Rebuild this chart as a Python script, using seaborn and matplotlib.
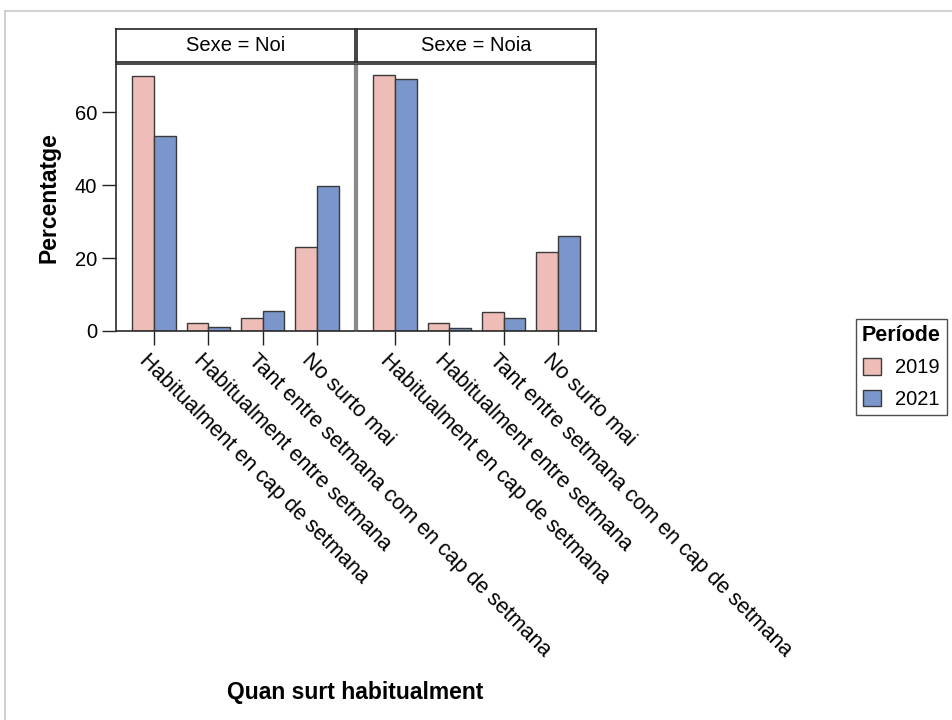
import seaborn as sns
import numpy as np
import pandas as pd
import matplotlib.pyplot as plt
from matplotlib.lines import Line2D
from matplotlib.transforms import ScaledTranslation

# data
categories = ['Habitualment en cap de setmana', 'Habitualment entre setmana',
              'Tant entre setmana com en cap de setmana', 'No surto mai']
sexes = ['Noi', 'Noia']
periods = ['2019', '2021']
noi_2019 = [69.9, 2.1, 3.7, 22.9]
noi_2021 = [53.4, 1.0, 5.5, 39.7]
noia_2019 = [70.3, 2.1, 5.2, 21.7]
noia_2021 = [69.0, 0.7, 3.7, 26.0]

colors = ['#EEBDB7', '#7B96CB']

rows = []
for sexe, s19, s21 in [('Noi', noi_2019, noi_2021), ('Noia', noia_2019, noia_2021)]:
	for cat, v19, v21 in zip(categories, s19, s21):
		rows.append({'Sexe': sexe, 'cat': cat, 'Període': '2019', 'pct': v19})
		rows.append({'Sexe': sexe, 'cat': cat, 'Període': '2021', 'pct': v21})
df = pd.DataFrame(rows)

sns.set_style('white')
plt.rcParams['font.family'] = ['Liberation Sans', 'DejaVu Sans']
plt.rcParams['text.color'] = 'black'
plt.rcParams['axes.labelcolor'] = 'black'
plt.rcParams['xtick.color'] = 'black'
plt.rcParams['ytick.color'] = 'black'

fig = plt.figure(figsize=(9.53, 7.2), dpi=100)

# outer gray frame (top and left lines)
fig.add_artist(Line2D([5/953, 1], [1-11/720, 1-11/720], color='#c8c8c8', lw=1.2))
fig.add_artist(Line2D([5/953, 5/953], [0, 1-11/720], color='#c8c8c8', lw=1.2))

W, H = 953, 720
panel_x = [116, 357]
panel_w = 239
plot_top, plot_bot = 64, 331
head_top, head_bot = 29, 62

axes = []
for i, sexe in enumerate(sexes):
	ax = fig.add_axes([panel_x[i]/W, 1-plot_bot/H, panel_w/W, (plot_bot-plot_top)/H])
	sub = df[df['Sexe'] == sexe]
	sns.barplot(data=sub, x='cat', y='pct', hue='Període', hue_order=periods,
				order=categories, palette=colors, width=0.8, saturation=1,
				edgecolor='#3a3a3a', linewidth=1, ax=ax, legend=(i == 0))
	ax.set_xlim(-0.7, 3.7)
	ax.set_ylim(0, 73.2)
	ax.set_yticks([0, 20, 40, 60])
	ax.set_xlabel('')
	ax.set_ylabel('')
	for sp in ax.spines.values():
		sp.set_visible(True)
		sp.set_color('#2a2a2a')
		sp.set_linewidth(1.2)
	ax.tick_params(axis='both', direction='out', length=10, width=1, color='#222222',
				   labelsize=15.5, bottom=True, left=(i == 0))
	ax.tick_params(axis='y', labelsize=14.5)
	ax.set_xticks(range(4))
	ax.set_xticklabels(categories, rotation=-45, ha='left', va='top',
					   rotation_mode='anchor')
	if i == 0:
		ax.set_ylabel('Percentatge', fontsize=16.5, fontweight='bold', labelpad=10)
	else:
		ax.set_yticklabels([])
		ax.spines['left'].set_color('#8a8a8a')
		ax.spines['left'].set_linewidth(1.6)
		ax.spines['left'].set_capstyle('butt')
	axes.append(ax)

	# boxed facet header
	hax = fig.add_axes([panel_x[i]/W, 1-head_bot/H, panel_w/W, (head_bot-head_top)/H])
	hax.set_xticks([])
	hax.set_yticks([])
	for sp in hax.spines.values():
		sp.set_visible(True)
		sp.set_color('#222222')
		sp.set_linewidth(1.2)
	hax.text(0.5, 0.5, f'Sexe = {sexe}', ha='center', va='center', fontsize=14.5,
			 transform=hax.transAxes)

axes[0].spines['right'].set_color('#8a8a8a')
axes[0].spines['right'].set_linewidth(1.6)
axes[0].spines['right'].set_capstyle('butt')

# shift tick labels so the rotated text starts just under the tick
for ax in axes:
	for lab in ax.get_xticklabels():
		lab.set_transform(lab.get_transform() + ScaledTranslation(-3/72, 0, fig.dpi_scale_trans))

fig.text(355/W, 1-693/H, 'Quan surt habitualment', ha='center', va='center',
		 fontsize=16.5, fontweight='bold')

handles, labels = axes[0].get_legend_handles_labels()
axes[0].get_legend().remove()
leg = fig.legend(handles, labels, title='Període', loc='upper left',
				 bbox_to_anchor=(856/W, 1-319/H), frameon=True, fontsize=14.5,
				 title_fontproperties={'weight': 'bold', 'size': 15.5},
				 handlelength=0.9, handleheight=0.9, handletextpad=0.7,
				 borderpad=0.3, labelspacing=0.6, fancybox=False, borderaxespad=0)
leg.get_frame().set_edgecolor('#222222')
leg.get_frame().set_linewidth(1)

fig.savefig('out.png', dpi=100)
